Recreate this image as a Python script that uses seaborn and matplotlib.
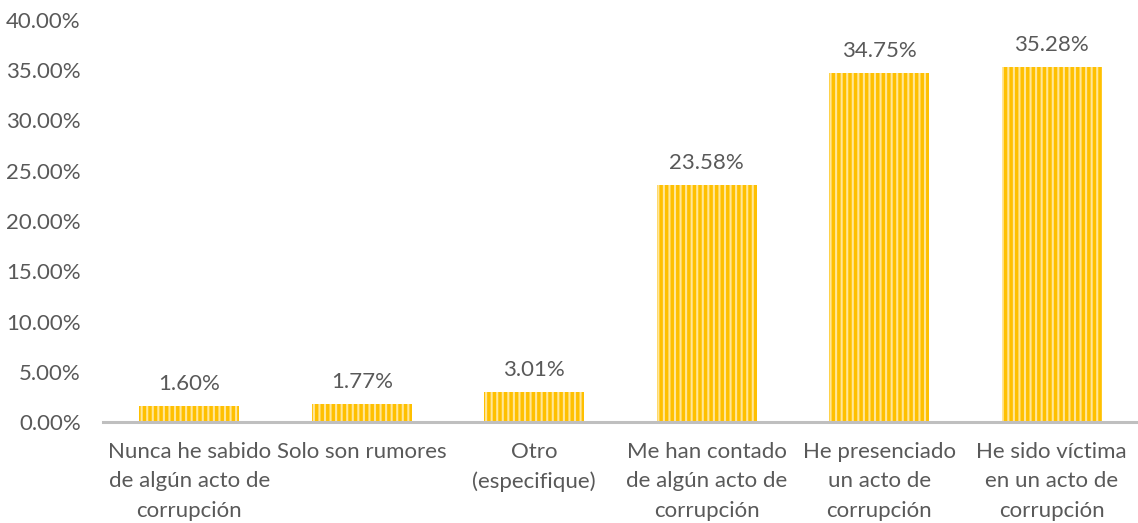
import matplotlib
matplotlib.use("Agg")
import matplotlib.pyplot as plt
import seaborn as sns
import pandas as pd
from matplotlib.ticker import FuncFormatter

categories = [
    "Nunca he sabido\nde algún acto de\ncorrupción",
    "Solo son rumores",
    "Otro\n(especifique)",
    "Me han contado\nde algún acto de\ncorrupción",
    "He presenciado\nun acto de\ncorrupción",
    "He sido víctima\nen un acto de\ncorrupción",
]
values = [1.60, 1.77, 3.01, 23.58, 34.75, 35.28]
yticks = [0, 5, 10, 15, 20, 25, 30, 35, 40]

sns.set_theme(style="white")
plt.rcParams['font.family'] = ['Lato', 'DejaVu Sans']
plt.rcParams['hatch.linewidth'] = 1.5
txt = "#595959"
fs = 16

df = pd.DataFrame({"cat": categories, "val": values})
fig = plt.figure(figsize=(11.38, 5.23), dpi=100)
ax = fig.add_axes([0.0905, 0.193, 0.9095, 0.769])
sns.barplot(data=df, x="cat", y="val", color="#FFC000", width=0.58, ax=ax,
            linewidth=0, saturation=1)
for p in ax.patches:
    p.set_hatch("|||")
    p.set_edgecolor("#FFE699")
for i, v in enumerate(values):
    ax.text(i, v + 1.2, f"{v:.2f}%", ha="center", va="bottom", fontsize=fs, color=txt)

ax.set_ylim(0, 40)
ax.set_yticks(yticks)
ax.yaxis.set_major_formatter(FuncFormatter(lambda y, _: f"{y:.2f}%"))
ax.set_xlim(-0.5, 5.5)
ax.set_xlabel("")
ax.set_ylabel("")
ax.tick_params(axis="both", labelsize=fs, colors=txt, length=0)
ax.tick_params(axis="x", pad=14)
ax.tick_params(axis="y", pad=16)
for lbl in ax.get_xticklabels():
    lbl.set_linespacing(1.6)
for s in ["top", "right", "left"]:
    ax.spines[s].set_visible(False)
ax.spines["bottom"].set_color("#BFBFBF")
ax.spines["bottom"].set_linewidth(2.2)
fig.savefig("out.png", dpi=100)
